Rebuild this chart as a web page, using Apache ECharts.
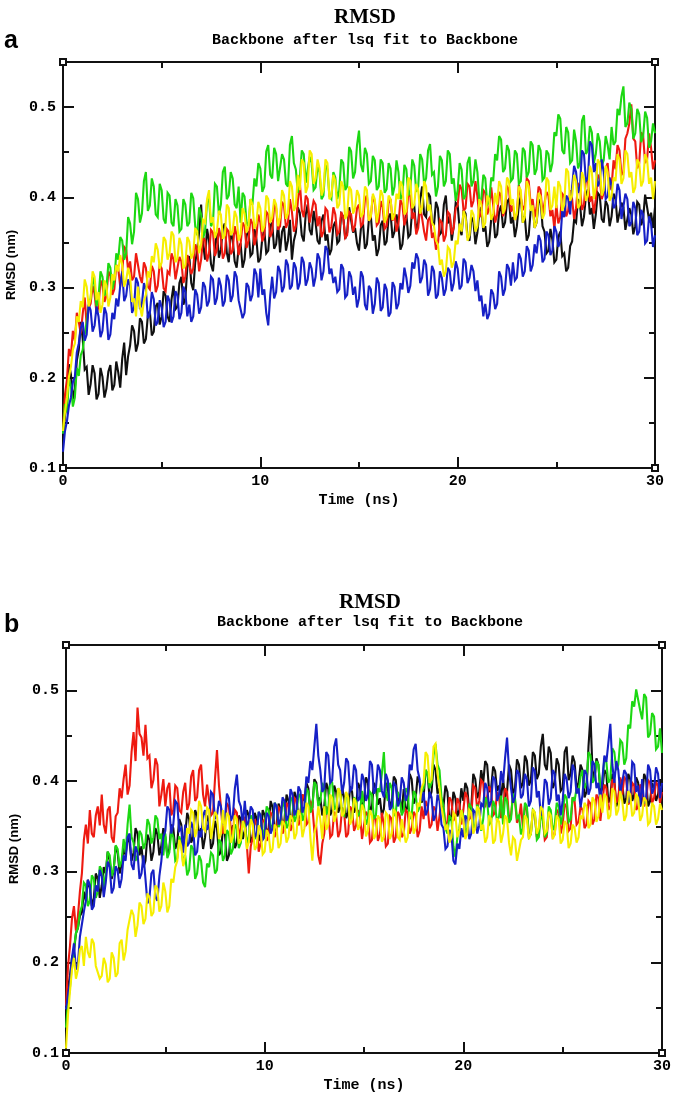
<!DOCTYPE html>
<html><head><meta charset="utf-8">
<script src="https://cdn.jsdelivr.net/npm/echarts@6/dist/echarts.min.js"></script>
<style>html,body{margin:0;padding:0;background:#fff}#c{width:675px;height:1095px}</style>
</head><body><div id="c"></div>
<script>
const panelLabels = ['a', 'b'];
const panelTitle = 'RMSD';
const panelSubtitle = 'Backbone after lsq fit to Backbone';
const xName = 'Time (ns)';
const yName = 'RMSD (nm)';
const seriesColors = ['#101010', '#ee1a10', '#1cd812', '#1620c6', '#f6ee00'];
// sampling grid: one sample every 0.1 ns from 0 to 30 ns
const timeNs = Array.from({length: 301}, (_, i) => i / 10);

// Panel a (one row = one ns)
const aBlack = [
0.128,0.158,0.172,0.215,0.204,0.176,0.188,0.219,0.231,0.262,
0.243,0.209,0.212,0.181,0.193,0.214,0.205,0.176,0.182,0.211,
0.201,0.178,0.188,0.207,0.214,0.186,0.192,0.218,0.206,0.189,
0.221,0.239,0.203,0.224,0.236,0.258,0.252,0.229,0.238,0.266,
0.262,0.238,0.243,0.269,0.274,0.247,0.251,0.279,0.283,0.259,
0.268,0.296,0.291,0.268,0.262,0.287,0.302,0.276,0.279,0.305,
0.312,0.281,0.288,0.322,0.335,0.305,0.297,0.328,0.341,0.362,
0.392,0.348,0.331,0.365,0.352,0.326,0.318,0.344,0.361,0.333,
0.342,0.366,0.371,0.339,0.328,0.361,0.353,0.329,0.322,0.344,
0.349,0.322,0.331,0.358,0.362,0.335,0.338,0.365,0.354,0.328,
0.332,0.355,0.364,0.338,0.341,0.368,0.372,0.343,0.348,0.371,
0.339,0.362,0.368,0.341,0.352,0.375,0.331,0.352,0.361,0.389,
0.383,0.358,0.351,0.381,0.392,0.364,0.358,0.385,0.372,0.352,
0.348,0.374,0.381,0.352,0.359,0.336,0.342,0.368,0.373,0.349,
0.352,0.382,0.379,0.354,0.361,0.389,0.388,0.361,0.366,0.349,
0.341,0.366,0.372,0.343,0.348,0.375,0.379,0.352,0.358,0.335,
0.343,0.369,0.374,0.347,0.351,0.378,0.382,0.355,0.362,0.381,
0.368,0.342,0.348,0.372,0.381,0.356,0.359,0.388,0.391,0.362,
0.372,0.398,0.412,0.381,0.378,0.405,0.401,0.372,0.369,0.395,
0.388,0.359,0.362,0.392,0.402,0.371,0.379,0.352,0.368,0.394,
0.391,0.365,0.358,0.386,0.382,0.356,0.352,0.378,0.373,0.348,
0.361,0.385,0.389,0.362,0.368,0.345,0.351,0.376,0.381,0.355,
0.359,0.384,0.391,0.366,0.372,0.395,0.398,0.371,0.378,0.356,
0.368,0.392,0.401,0.372,0.379,0.352,0.358,0.386,0.392,0.366,
0.372,0.394,0.398,0.368,0.362,0.338,0.341,0.365,0.353,0.328,
0.331,0.356,0.362,0.335,0.338,0.318,0.322,0.346,0.351,0.375,
0.372,0.398,0.392,0.368,0.378,0.402,0.409,0.381,0.388,0.365,
0.381,0.405,0.402,0.376,0.372,0.396,0.391,0.368,0.379,0.404,
0.398,0.372,0.371,0.394,0.389,0.364,0.362,0.388,0.381,0.359,
0.368,0.395,0.392,0.369,0.377,0.403,0.401,0.375,0.383,0.366,
0.389];
const aRed = [
0.142,0.181,0.198,0.232,0.224,0.252,0.241,0.272,0.262,0.249,
0.271,0.289,0.258,0.278,0.282,0.302,0.293,0.271,0.279,0.308,
0.302,0.284,0.291,0.318,0.313,0.292,0.298,0.325,0.321,0.301,
0.318,0.345,0.342,0.319,0.329,0.308,0.312,0.338,0.336,0.312,
0.305,0.328,0.322,0.301,0.298,0.324,0.318,0.295,0.302,0.326,
0.321,0.299,0.296,0.318,0.315,0.338,0.331,0.309,0.308,0.334,
0.329,0.305,0.312,0.336,0.338,0.315,0.321,0.348,0.342,0.318,
0.331,0.356,0.352,0.329,0.338,0.364,0.361,0.335,0.342,0.366,
0.355,0.332,0.338,0.365,0.362,0.337,0.341,0.368,0.358,0.336,
0.348,0.372,0.368,0.344,0.352,0.376,0.371,0.347,0.356,0.381,
0.372,0.351,0.358,0.384,0.381,0.356,0.362,0.391,0.388,0.364,
0.368,0.395,0.391,0.366,0.372,0.398,0.384,0.362,0.368,0.395,
0.417,0.386,0.378,0.402,0.398,0.372,0.371,0.396,0.392,0.368,
0.379,0.356,0.362,0.388,0.385,0.361,0.368,0.389,0.381,0.359,
0.362,0.384,0.378,0.355,0.358,0.384,0.381,0.362,0.369,0.388,
0.392,0.368,0.371,0.398,0.402,0.374,0.378,0.401,0.395,0.369,
0.372,0.396,0.389,0.365,0.368,0.394,0.398,0.374,0.382,0.362,
0.371,0.397,0.392,0.369,0.378,0.405,0.401,0.376,0.383,0.359,
0.366,0.391,0.389,0.362,0.352,0.375,0.378,0.355,0.361,0.342,
0.348,0.375,0.372,0.351,0.358,0.384,0.381,0.359,0.366,0.388,
0.391,0.414,0.409,0.385,0.388,0.415,0.412,0.389,0.396,0.418,
0.401,0.378,0.382,0.408,0.405,0.381,0.388,0.411,0.392,0.372,
0.381,0.406,0.402,0.379,0.386,0.412,0.409,0.384,0.391,0.375,
0.382,0.414,0.412,0.386,0.391,0.421,0.418,0.392,0.398,0.378,
0.389,0.412,0.408,0.381,0.382,0.406,0.402,0.379,0.386,0.365,
0.392,0.371,0.378,0.404,0.401,0.379,0.385,0.408,0.398,0.376,
0.388,0.415,0.412,0.386,0.392,0.421,0.418,0.395,0.401,0.382,
0.398,0.425,0.421,0.398,0.405,0.432,0.438,0.409,0.412,0.441,
0.431,0.458,0.452,0.425,0.428,0.465,0.471,0.482,0.503,0.465,
0.462,0.432,0.438,0.472,0.468,0.438,0.442,0.471,0.455,0.431,
0.441];
const aGreen = [
0.138,0.171,0.162,0.198,0.191,0.168,0.178,0.211,0.202,0.225,
0.231,0.248,0.262,0.281,0.288,0.312,0.302,0.279,0.289,0.318,
0.312,0.291,0.298,0.327,0.322,0.298,0.308,0.338,0.331,0.356,
0.352,0.331,0.338,0.378,0.371,0.348,0.362,0.405,0.398,0.372,
0.382,0.418,0.428,0.385,0.391,0.421,0.412,0.381,0.378,0.415,
0.408,0.376,0.371,0.405,0.402,0.372,0.368,0.398,0.391,0.362,
0.365,0.398,0.392,0.368,0.372,0.405,0.399,0.368,0.358,0.389,
0.381,0.355,0.362,0.395,0.398,0.368,0.372,0.415,0.412,0.381,
0.392,0.428,0.434,0.398,0.402,0.428,0.421,0.392,0.388,0.412,
0.372,0.405,0.401,0.372,0.368,0.398,0.392,0.421,0.412,0.438,
0.432,0.406,0.412,0.451,0.458,0.425,0.421,0.455,0.448,0.418,
0.418,0.448,0.442,0.415,0.412,0.458,0.468,0.438,0.431,0.405,
0.421,0.452,0.448,0.416,0.418,0.445,0.438,0.408,0.411,0.435,
0.428,0.398,0.402,0.436,0.431,0.401,0.398,0.428,0.422,0.398,
0.408,0.442,0.438,0.408,0.412,0.456,0.451,0.421,0.428,0.458,
0.474,0.436,0.428,0.455,0.448,0.415,0.418,0.446,0.441,0.408,
0.412,0.442,0.438,0.405,0.409,0.438,0.432,0.402,0.412,0.441,
0.428,0.398,0.402,0.436,0.431,0.402,0.408,0.442,0.435,0.406,
0.412,0.448,0.442,0.415,0.421,0.452,0.459,0.425,0.428,0.401,
0.412,0.446,0.441,0.412,0.418,0.452,0.448,0.415,0.421,0.396,
0.408,0.438,0.431,0.398,0.402,0.438,0.445,0.412,0.418,0.442,
0.428,0.395,0.398,0.425,0.421,0.392,0.395,0.422,0.418,0.448,
0.441,0.468,0.464,0.428,0.432,0.458,0.452,0.418,0.421,0.452,
0.448,0.415,0.418,0.455,0.451,0.422,0.428,0.462,0.458,0.425,
0.431,0.458,0.452,0.419,0.422,0.452,0.448,0.428,0.438,0.472,
0.468,0.492,0.487,0.452,0.448,0.478,0.472,0.438,0.441,0.475,
0.462,0.432,0.438,0.485,0.491,0.448,0.452,0.479,0.472,0.438,
0.448,0.471,0.462,0.435,0.441,0.468,0.458,0.442,0.478,0.458,
0.462,0.498,0.491,0.512,0.523,0.478,0.482,0.505,0.498,0.465,
0.471,0.498,0.492,0.461,0.468,0.495,0.488,0.455,0.462,0.482,
0.471];
const aBlue = [
0.118,0.141,0.152,0.169,0.178,0.195,0.201,0.228,0.238,0.255,
0.262,0.241,0.248,0.281,0.275,0.251,0.258,0.279,0.268,0.245,
0.252,0.278,0.271,0.242,0.248,0.272,0.265,0.288,0.279,0.302,
0.318,0.285,0.291,0.309,0.302,0.272,0.278,0.311,0.305,0.276,
0.282,0.305,0.298,0.266,0.271,0.295,0.287,0.258,0.262,0.286,
0.278,0.256,0.262,0.291,0.285,0.261,0.268,0.296,0.291,0.265,
0.272,0.301,0.295,0.268,0.281,0.262,0.268,0.298,0.292,0.271,
0.278,0.306,0.301,0.279,0.285,0.312,0.309,0.281,0.288,0.311,
0.302,0.279,0.285,0.314,0.308,0.284,0.291,0.318,0.312,0.286,
0.288,0.266,0.272,0.305,0.301,0.285,0.292,0.321,0.315,0.289,
0.321,0.292,0.298,0.272,0.258,0.291,0.312,0.288,0.295,0.324,
0.318,0.295,0.301,0.331,0.325,0.298,0.302,0.328,0.322,0.298,
0.305,0.334,0.328,0.302,0.309,0.328,0.321,0.301,0.312,0.338,
0.332,0.308,0.318,0.346,0.342,0.315,0.321,0.305,0.312,0.295,
0.298,0.326,0.321,0.289,0.292,0.318,0.312,0.292,0.301,0.278,
0.288,0.318,0.312,0.281,0.275,0.302,0.298,0.271,0.282,0.311,
0.305,0.274,0.278,0.304,0.298,0.268,0.272,0.306,0.301,0.276,
0.282,0.305,0.298,0.322,0.311,0.294,0.302,0.328,0.321,0.338,
0.332,0.305,0.311,0.331,0.325,0.291,0.298,0.324,0.318,0.288,
0.292,0.318,0.311,0.291,0.298,0.322,0.318,0.296,0.305,0.329,
0.321,0.298,0.302,0.332,0.328,0.305,0.311,0.325,0.318,0.296,
0.308,0.285,0.291,0.268,0.282,0.265,0.271,0.298,0.293,0.276,
0.282,0.318,0.312,0.291,0.298,0.326,0.321,0.302,0.328,0.308,
0.311,0.338,0.332,0.312,0.318,0.346,0.341,0.318,0.325,0.348,
0.338,0.358,0.352,0.328,0.332,0.362,0.358,0.336,0.341,0.368,
0.362,0.345,0.351,0.385,0.378,0.402,0.398,0.381,0.412,0.435,
0.428,0.405,0.412,0.452,0.448,0.418,0.421,0.462,0.458,0.428,
0.438,0.412,0.418,0.442,0.428,0.398,0.401,0.422,0.412,0.388,
0.392,0.415,0.408,0.376,0.378,0.404,0.398,0.368,0.372,0.395,
0.388,0.358,0.362,0.386,0.381,0.349,0.352,0.379,0.371,0.345,
0.358];
const aYellow = [
0.141,0.162,0.178,0.201,0.212,0.231,0.238,0.268,0.262,0.285,
0.278,0.309,0.301,0.279,0.288,0.318,0.312,0.286,0.295,0.272,
0.281,0.308,0.302,0.279,0.289,0.315,0.308,0.325,0.318,0.336,
0.325,0.301,0.308,0.322,0.312,0.284,0.288,0.268,0.301,0.279,
0.268,0.285,0.292,0.318,0.311,0.335,0.328,0.349,0.342,0.321,
0.328,0.356,0.352,0.331,0.338,0.362,0.358,0.328,0.332,0.355,
0.348,0.321,0.325,0.356,0.351,0.332,0.338,0.366,0.362,0.338,
0.348,0.375,0.372,0.398,0.408,0.372,0.378,0.355,0.362,0.385,
0.381,0.354,0.358,0.392,0.388,0.358,0.362,0.385,0.378,0.352,
0.359,0.388,0.382,0.361,0.368,0.398,0.392,0.365,0.371,0.395,
0.388,0.362,0.368,0.402,0.398,0.372,0.378,0.398,0.392,0.368,
0.378,0.408,0.402,0.376,0.382,0.418,0.412,0.385,0.391,0.425,
0.408,0.442,0.438,0.405,0.412,0.452,0.448,0.415,0.421,0.442,
0.432,0.402,0.408,0.442,0.438,0.398,0.402,0.425,0.418,0.388,
0.392,0.418,0.412,0.376,0.381,0.412,0.408,0.382,0.388,0.408,
0.402,0.378,0.382,0.412,0.408,0.374,0.379,0.404,0.398,0.372,
0.385,0.408,0.402,0.372,0.378,0.402,0.398,0.375,0.381,0.404,
0.398,0.418,0.412,0.381,0.385,0.422,0.418,0.388,0.392,0.415,
0.408,0.382,0.389,0.418,0.412,0.385,0.392,0.372,0.368,0.352,
0.348,0.325,0.331,0.312,0.318,0.345,0.342,0.322,0.328,0.352,
0.348,0.371,0.362,0.385,0.378,0.352,0.358,0.386,0.381,0.362,
0.368,0.398,0.392,0.366,0.372,0.402,0.398,0.375,0.381,0.405,
0.392,0.418,0.412,0.382,0.388,0.422,0.418,0.392,0.398,0.375,
0.382,0.412,0.408,0.372,0.378,0.418,0.412,0.385,0.391,0.366,
0.372,0.405,0.401,0.376,0.382,0.422,0.418,0.386,0.391,0.412,
0.388,0.418,0.412,0.385,0.392,0.432,0.428,0.396,0.402,0.425,
0.418,0.388,0.392,0.428,0.421,0.396,0.402,0.435,0.428,0.398,
0.412,0.442,0.438,0.402,0.408,0.435,0.428,0.396,0.401,0.422,
0.418,0.448,0.442,0.415,0.421,0.452,0.448,0.422,0.428,0.405,
0.411,0.442,0.438,0.412,0.418,0.448,0.442,0.415,0.422,0.398,
0.418];

// Panel b (one row = one ns)
const bBlack = [
0.148,0.172,0.185,0.205,0.212,0.232,0.238,0.251,0.255,0.278,
0.268,0.291,0.282,0.262,0.271,0.298,0.292,0.271,0.285,0.305,
0.298,0.322,0.312,0.292,0.302,0.328,0.321,0.298,0.308,0.326,
0.318,0.338,0.332,0.312,0.321,0.348,0.342,0.318,0.328,0.305,
0.312,0.341,0.335,0.312,0.322,0.348,0.341,0.318,0.329,0.348,
0.338,0.318,0.325,0.352,0.348,0.325,0.332,0.358,0.352,0.331,
0.341,0.365,0.358,0.332,0.338,0.368,0.362,0.338,0.348,0.325,
0.338,0.362,0.355,0.325,0.331,0.356,0.348,0.318,0.322,0.348,
0.342,0.312,0.318,0.345,0.351,0.326,0.332,0.362,0.358,0.336,
0.345,0.368,0.362,0.332,0.338,0.365,0.358,0.334,0.341,0.368,
0.362,0.341,0.348,0.378,0.371,0.345,0.352,0.375,0.368,0.346,
0.358,0.385,0.378,0.355,0.362,0.388,0.381,0.358,0.365,0.385,
0.378,0.398,0.392,0.366,0.371,0.402,0.398,0.375,0.382,0.362,
0.372,0.398,0.391,0.362,0.368,0.395,0.388,0.365,0.371,0.392,
0.382,0.359,0.365,0.394,0.388,0.365,0.371,0.398,0.392,0.369,
0.378,0.404,0.398,0.366,0.372,0.398,0.392,0.374,0.381,0.362,
0.369,0.398,0.392,0.371,0.378,0.405,0.401,0.376,0.382,0.365,
0.391,0.366,0.372,0.408,0.402,0.375,0.381,0.405,0.398,0.376,
0.382,0.412,0.408,0.381,0.388,0.418,0.412,0.386,0.392,0.368,
0.372,0.395,0.388,0.356,0.362,0.388,0.381,0.361,0.368,0.392,
0.378,0.398,0.392,0.365,0.371,0.408,0.402,0.381,0.388,0.412,
0.398,0.422,0.418,0.388,0.392,0.416,0.411,0.389,0.395,0.381,
0.402,0.382,0.388,0.418,0.412,0.386,0.392,0.424,0.418,0.392,
0.398,0.428,0.422,0.395,0.401,0.432,0.428,0.402,0.408,0.438,
0.452,0.418,0.412,0.438,0.431,0.392,0.398,0.425,0.418,0.389,
0.392,0.432,0.438,0.401,0.408,0.428,0.421,0.392,0.398,0.418,
0.412,0.382,0.388,0.438,0.472,0.412,0.402,0.425,0.418,0.386,
0.392,0.412,0.408,0.376,0.382,0.408,0.401,0.372,0.378,0.402,
0.398,0.375,0.381,0.408,0.402,0.378,0.385,0.404,0.398,0.372,
0.381,0.408,0.402,0.372,0.378,0.398,0.392,0.378,0.385,0.402,
0.391];
const bRed = [
0.152,0.195,0.218,0.248,0.262,0.235,0.251,0.278,0.298,0.335,
0.352,0.331,0.368,0.342,0.338,0.362,0.372,0.351,0.385,0.352,
0.342,0.368,0.372,0.338,0.332,0.361,0.365,0.392,0.381,0.402,
0.418,0.385,0.395,0.432,0.454,0.422,0.481,0.452,0.448,0.428,
0.462,0.425,0.428,0.392,0.401,0.425,0.418,0.372,0.385,0.402,
0.372,0.392,0.398,0.362,0.368,0.395,0.392,0.368,0.365,0.388,
0.398,0.368,0.375,0.405,0.412,0.378,0.382,0.412,0.418,0.385,
0.372,0.396,0.398,0.362,0.365,0.402,0.434,0.395,0.371,0.342,
0.352,0.375,0.372,0.345,0.341,0.368,0.365,0.336,0.338,0.362,
0.358,0.331,0.298,0.328,0.338,0.358,0.351,0.322,0.332,0.355,
0.358,0.334,0.338,0.365,0.362,0.338,0.345,0.371,0.368,0.342,
0.348,0.376,0.372,0.345,0.352,0.381,0.378,0.351,0.358,0.385,
0.381,0.352,0.355,0.378,0.372,0.345,0.348,0.318,0.308,0.331,
0.342,0.372,0.368,0.338,0.341,0.366,0.362,0.338,0.345,0.371,
0.365,0.338,0.342,0.372,0.368,0.345,0.351,0.368,0.362,0.336,
0.338,0.366,0.362,0.332,0.335,0.362,0.358,0.334,0.341,0.365,
0.352,0.328,0.331,0.361,0.358,0.332,0.338,0.366,0.362,0.338,
0.342,0.368,0.365,0.342,0.348,0.366,0.362,0.338,0.345,0.372,
0.358,0.378,0.372,0.348,0.352,0.372,0.368,0.345,0.361,0.378,
0.372,0.352,0.355,0.382,0.378,0.356,0.362,0.381,0.375,0.352,
0.368,0.388,0.382,0.358,0.361,0.395,0.392,0.368,0.378,0.401,
0.398,0.371,0.372,0.394,0.389,0.362,0.365,0.388,0.382,0.359,
0.371,0.392,0.388,0.359,0.362,0.385,0.378,0.354,0.358,0.375,
0.348,0.372,0.368,0.339,0.342,0.366,0.362,0.338,0.345,0.368,
0.358,0.335,0.338,0.366,0.362,0.338,0.341,0.368,0.365,0.342,
0.352,0.375,0.371,0.345,0.348,0.382,0.378,0.352,0.355,0.372,
0.368,0.348,0.352,0.378,0.375,0.352,0.358,0.385,0.381,0.356,
0.378,0.396,0.392,0.368,0.372,0.402,0.398,0.376,0.382,0.404,
0.385,0.404,0.401,0.374,0.378,0.398,0.395,0.368,0.372,0.396,
0.392,0.372,0.378,0.401,0.398,0.376,0.381,0.399,0.395,0.376,
0.388];
const bGreen = [
0.128,0.155,0.172,0.198,0.215,0.232,0.238,0.255,0.262,0.288,
0.285,0.262,0.268,0.296,0.292,0.271,0.278,0.306,0.302,0.282,
0.298,0.322,0.318,0.295,0.302,0.329,0.325,0.305,0.312,0.336,
0.321,0.352,0.374,0.338,0.332,0.312,0.318,0.345,0.341,0.325,
0.332,0.358,0.352,0.331,0.338,0.362,0.358,0.336,0.342,0.318,
0.342,0.315,0.321,0.345,0.338,0.312,0.315,0.339,0.332,0.308,
0.318,0.296,0.302,0.329,0.325,0.292,0.298,0.318,0.312,0.288,
0.283,0.309,0.305,0.321,0.318,0.298,0.302,0.336,0.332,0.312,
0.318,0.346,0.342,0.319,0.325,0.352,0.348,0.326,0.332,0.356,
0.352,0.332,0.338,0.362,0.358,0.336,0.341,0.366,0.361,0.338,
0.348,0.372,0.368,0.346,0.352,0.376,0.372,0.349,0.355,0.378,
0.371,0.348,0.352,0.382,0.378,0.355,0.361,0.386,0.382,0.356,
0.362,0.392,0.388,0.365,0.371,0.399,0.395,0.372,0.378,0.398,
0.392,0.363,0.368,0.402,0.398,0.368,0.372,0.392,0.388,0.365,
0.362,0.386,0.382,0.355,0.358,0.382,0.378,0.361,0.365,0.389,
0.372,0.352,0.358,0.388,0.385,0.358,0.362,0.392,0.388,0.408,
0.432,0.388,0.378,0.398,0.392,0.362,0.365,0.388,0.382,0.362,
0.368,0.392,0.388,0.358,0.362,0.389,0.385,0.366,0.371,0.388,
0.392,0.412,0.408,0.392,0.398,0.428,0.441,0.418,0.412,0.382,
0.372,0.348,0.342,0.362,0.358,0.328,0.316,0.338,0.348,0.368,
0.362,0.342,0.348,0.375,0.371,0.348,0.352,0.374,0.368,0.345,
0.358,0.382,0.378,0.352,0.355,0.378,0.372,0.355,0.361,0.384,
0.352,0.382,0.378,0.354,0.358,0.386,0.381,0.359,0.362,0.341,
0.348,0.376,0.372,0.338,0.341,0.368,0.365,0.335,0.338,0.362,
0.358,0.338,0.342,0.372,0.368,0.346,0.351,0.376,0.372,0.352,
0.362,0.385,0.381,0.355,0.358,0.382,0.378,0.392,0.388,0.405,
0.412,0.392,0.398,0.432,0.428,0.398,0.402,0.422,0.418,0.392,
0.398,0.425,0.421,0.398,0.402,0.436,0.432,0.412,0.418,0.445,
0.442,0.418,0.425,0.462,0.458,0.488,0.482,0.501,0.503,0.478,
0.468,0.496,0.492,0.448,0.452,0.475,0.471,0.435,0.438,0.458,
0.431];
const bBlue = [
0.148,0.165,0.178,0.205,0.221,0.192,0.198,0.228,0.242,0.256,
0.268,0.291,0.285,0.258,0.262,0.285,0.278,0.302,0.295,0.272,
0.288,0.311,0.305,0.276,0.282,0.306,0.301,0.282,0.292,0.318,
0.312,0.338,0.342,0.308,0.302,0.328,0.321,0.292,0.298,0.318,
0.292,0.265,0.271,0.298,0.302,0.272,0.268,0.295,0.312,0.338,
0.345,0.372,0.368,0.342,0.352,0.378,0.375,0.345,0.348,0.321,
0.352,0.328,0.332,0.355,0.348,0.318,0.322,0.345,0.338,0.362,
0.368,0.346,0.352,0.388,0.385,0.358,0.362,0.378,0.372,0.352,
0.358,0.386,0.381,0.356,0.362,0.392,0.407,0.378,0.372,0.351,
0.378,0.352,0.355,0.372,0.368,0.338,0.342,0.366,0.362,0.335,
0.338,0.365,0.361,0.342,0.348,0.376,0.372,0.352,0.358,0.382,
0.378,0.356,0.362,0.391,0.385,0.362,0.368,0.394,0.389,0.365,
0.372,0.405,0.398,0.422,0.412,0.438,0.463,0.428,0.412,0.388,
0.392,0.432,0.428,0.398,0.401,0.438,0.447,0.418,0.412,0.386,
0.398,0.425,0.421,0.389,0.392,0.418,0.412,0.378,0.382,0.408,
0.401,0.378,0.385,0.422,0.418,0.386,0.392,0.418,0.412,0.389,
0.382,0.408,0.401,0.368,0.372,0.398,0.395,0.372,0.378,0.404,
0.398,0.378,0.385,0.418,0.412,0.435,0.441,0.412,0.402,0.378,
0.388,0.362,0.368,0.388,0.382,0.356,0.362,0.385,0.378,0.352,
0.348,0.325,0.328,0.346,0.342,0.312,0.308,0.331,0.325,0.348,
0.338,0.362,0.358,0.336,0.342,0.368,0.365,0.342,0.351,0.375,
0.372,0.398,0.392,0.371,0.378,0.405,0.401,0.378,0.385,0.411,
0.398,0.425,0.448,0.412,0.392,0.376,0.382,0.412,0.408,0.381,
0.385,0.408,0.402,0.372,0.378,0.415,0.411,0.382,0.389,0.362,
0.372,0.402,0.398,0.374,0.381,0.412,0.408,0.378,0.385,0.362,
0.378,0.408,0.402,0.381,0.388,0.418,0.412,0.386,0.392,0.371,
0.385,0.412,0.408,0.385,0.392,0.422,0.418,0.392,0.398,0.376,
0.402,0.428,0.421,0.442,0.463,0.418,0.398,0.422,0.412,0.386,
0.388,0.412,0.408,0.376,0.382,0.421,0.418,0.388,0.395,0.372,
0.402,0.375,0.381,0.418,0.412,0.386,0.392,0.415,0.408,0.381,
0.398];
const bYellow = [
0.105,0.142,0.168,0.192,0.205,0.182,0.192,0.214,0.218,0.196,
0.228,0.211,0.205,0.226,0.221,0.196,0.198,0.182,0.185,0.205,
0.198,0.178,0.182,0.211,0.205,0.184,0.188,0.221,0.225,0.202,
0.212,0.236,0.238,0.258,0.252,0.228,0.241,0.266,0.262,0.242,
0.248,0.276,0.272,0.251,0.255,0.285,0.281,0.256,0.262,0.288,
0.278,0.255,0.262,0.292,0.288,0.305,0.312,0.335,0.328,0.306,
0.318,0.348,0.342,0.368,0.365,0.338,0.348,0.378,0.372,0.348,
0.345,0.371,0.368,0.336,0.338,0.366,0.362,0.336,0.342,0.368,
0.342,0.365,0.361,0.332,0.338,0.362,0.358,0.331,0.335,0.356,
0.348,0.325,0.332,0.358,0.352,0.324,0.328,0.351,0.345,0.319,
0.322,0.346,0.341,0.321,0.325,0.352,0.348,0.326,0.331,0.356,
0.352,0.332,0.338,0.362,0.358,0.336,0.342,0.368,0.362,0.338,
0.348,0.376,0.372,0.338,0.312,0.342,0.352,0.372,0.358,0.336,
0.372,0.346,0.352,0.385,0.381,0.355,0.362,0.392,0.388,0.361,
0.365,0.388,0.382,0.352,0.358,0.381,0.375,0.346,0.352,0.374,
0.368,0.339,0.345,0.368,0.362,0.336,0.341,0.362,0.358,0.333,
0.338,0.365,0.362,0.336,0.342,0.369,0.365,0.338,0.335,0.358,
0.358,0.332,0.338,0.366,0.362,0.342,0.348,0.376,0.372,0.392,
0.398,0.432,0.428,0.398,0.402,0.438,0.441,0.408,0.392,0.372,
0.372,0.346,0.352,0.332,0.338,0.365,0.362,0.338,0.345,0.368,
0.358,0.336,0.342,0.368,0.365,0.342,0.348,0.372,0.368,0.346,
0.352,0.332,0.338,0.362,0.358,0.331,0.335,0.359,0.355,0.332,
0.342,0.362,0.358,0.332,0.318,0.338,0.335,0.312,0.312,0.335,
0.338,0.362,0.358,0.336,0.342,0.369,0.365,0.342,0.348,0.372,
0.368,0.342,0.345,0.366,0.362,0.336,0.341,0.362,0.358,0.331,
0.335,0.356,0.352,0.326,0.331,0.352,0.348,0.332,0.338,0.362,
0.358,0.376,0.372,0.348,0.352,0.382,0.378,0.355,0.361,0.385,
0.365,0.386,0.382,0.358,0.362,0.392,0.388,0.362,0.368,0.389,
0.378,0.356,0.362,0.389,0.385,0.361,0.365,0.386,0.381,0.356,
0.362,0.382,0.378,0.352,0.355,0.376,0.372,0.352,0.358,0.375,
0.368];

const panels = [
  [aBlack, aRed, aGreen, aBlue, aYellow],
  [bBlack, bRed, bGreen, bBlue, bYellow]
];

const grids = [
  {left: 63, top: 62, width: 592, height: 406},
  {left: 66, top: 645, width: 596, height: 408}
];
const headY = [[18, 40], [603, 622]];
const labelY = [54, 638];

const mono = '"Liberation Mono", "DejaVu Sans Mono", monospace';
const lineCol = '#111';

const xAxes = [], yAxes = [], series = [], graphic = [];

grids.forEach((g, gi) => {
  const axisLine = {show: true, onZero: false, lineStyle: {color: lineCol, width: 2}};
  const xBase = {
    type: 'value', gridIndex: gi, min: 0, max: 30, interval: 10,
    axisLine: axisLine, splitLine: {show: false},
    axisTick: {inside: true, length: 11, lineStyle: {color: lineCol, width: 2}},
    minorTick: {show: true, splitNumber: 2, length: 6, lineStyle: {color: lineCol, width: 2}},
  };
  xAxes.push(Object.assign({}, xBase, {
    position: 'bottom',
    axisLabel: {color: '#000', fontFamily: mono, fontWeight: 'bold', fontSize: 15, margin: 6},
    name: xName, nameLocation: 'middle', nameGap: 25,
    nameTextStyle: {color: '#000', fontFamily: mono, fontWeight: 'bold', fontSize: 15}
  }));
  xAxes.push(Object.assign({}, xBase, {position: 'top', axisLabel: {show: false}}));
  const yBase = {
    type: 'value', gridIndex: gi, min: 0.1, max: 0.55,
    axisLine: axisLine, splitLine: {show: false}
  };
  const yMajor = Object.assign({}, yBase, {
    interval: 0.1,
    axisTick: {inside: true, length: 11, lineStyle: {color: lineCol, width: 2}}
  });
  const yMinor = Object.assign({}, yBase, {
    interval: 0.05, axisLabel: {show: false},
    axisTick: {inside: true, length: 6, lineStyle: {color: lineCol, width: 2}}
  });
  const yi0 = yAxes.length;
  yAxes.push(Object.assign({}, yMajor, {
    position: 'left',
    axisLabel: {color: '#000', fontFamily: mono, fontWeight: 'bold', fontSize: 15, margin: 7,
      formatter: v => (v > 0.51 ? '' : v.toFixed(1))},
    name: yName, nameLocation: 'middle', nameGap: 43, nameRotate: 90,
    nameTextStyle: {color: '#000', fontFamily: '"Liberation Sans", Arial, sans-serif', fontWeight: 'bold', fontSize: 13}
  }));
  yAxes.push(Object.assign({}, yMinor, {position: 'left'}));
  yAxes.push(Object.assign({}, yMajor, {position: 'right', axisLabel: {show: false}}));
  yAxes.push(Object.assign({}, yMinor, {position: 'right'}));

  panels[gi].forEach((vals, si) => {
    series.push({
      type: 'line', xAxisIndex: gi * 2, yAxisIndex: yi0,
      data: vals.map((v, i) => [timeNs[i], v]),
      showSymbol: false, symbol: 'none', smooth: false,
      lineStyle: {color: seriesColors[si], width: 2.1, join: 'miter', miterLimit: 3},
      itemStyle: {color: seriesColors[si]},
      animation: false, silent: true
    });
  });

  const cx = g.left + g.width / 2 + 6;
  graphic.push({type: 'text', style: {
    text: panelTitle, x: cx, y: headY[gi][0], textAlign: 'center', textVerticalAlign: 'middle',
    font: 'bold 21px "Liberation Serif", "Times New Roman", serif', fill: '#000'}});
  graphic.push({type: 'text', style: {
    text: panelSubtitle, x: cx, y: headY[gi][1], textAlign: 'center', textVerticalAlign: 'middle',
    font: 'bold 15px ' + mono, fill: '#000'}});
  graphic.push({type: 'text', style: {
    text: panelLabels[gi], x: 4, y: labelY[gi], textAlign: 'left', textVerticalAlign: 'bottom',
    font: 'bold 25px "Liberation Sans", Arial, sans-serif', fill: '#000'}});
  // small frame-corner squares (decoration of the plot frame)
  [[g.left, g.top], [g.left + g.width, g.top], [g.left, g.top + g.height], [g.left + g.width, g.top + g.height]]
    .forEach(([px, py]) => graphic.push({type: 'rect', z: 100,
      shape: {x: px - 3, y: py - 3, width: 6, height: 6},
      style: {fill: '#fff', stroke: '#111', lineWidth: 2}}));
});

const chart = echarts.init(document.getElementById('c'), null, {renderer: 'canvas'});
chart.setOption({
  backgroundColor: '#fff',
  animation: false,
  grid: grids.map(g => Object.assign({containLabel: false, outerBoundsMode: 'none'}, g)),
  xAxis: xAxes,
  yAxis: yAxes,
  series: series,
  graphic: graphic
});
</script></body></html>
